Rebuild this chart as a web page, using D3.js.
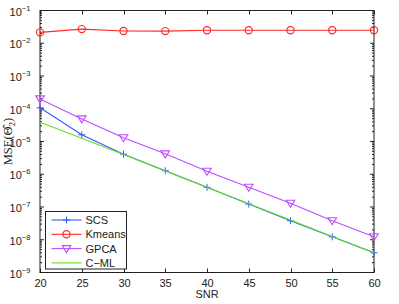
<!DOCTYPE html>
<html>
<head>
<meta charset="utf-8">
<script src="https://cdn.jsdelivr.net/npm/d3@7"></script>
<style>
  body { margin: 0; background: #fff; }
  text { font-family: "Liberation Sans", Arial, sans-serif; }
</style>
</head>
<body>
<svg id="chart" width="399" height="304"></svg>
<script>
// data
const snr = [20, 25, 30, 35, 40, 45, 50, 55, 60]
const scs = [1.07e-4, 1.6e-5, 4.1e-6, 1.28e-6, 4.0e-7, 1.23e-7, 3.8e-8, 1.23e-8, 4.0e-9]
const kmeans = [0.0215, 0.027, 0.0237, 0.0235, 0.025, 0.025, 0.025, 0.025, 0.025]
const gpca = [2.0e-4, 4.9e-5, 1.3e-5, 4.2e-6, 1.23e-6, 4.0e-7, 1.3e-7, 3.8e-8, 1.23e-8]
const cml = [3.9e-5, 1.25e-5, 4.0e-6, 1.26e-6, 4.0e-7, 1.26e-7, 4.0e-8, 1.26e-8, 4.0e-9]
const xTicks = [20, 25, 30, 35, 40, 45, 50, 55, 60]
const yExps = [-9, -8, -7, -6, -5, -4, -3, -2, -1]

const series = [
  {name: 'SCS', values: scs, color: '#3658ff', marker: 'plus'},
  {name: 'Kmeans', values: kmeans, color: '#ff2a2a', marker: 'circle'},
  {name: 'GPCA', values: gpca, color: '#c04cff', marker: 'tri'},
  {name: 'C\u2212ML', values: cml, color: '#62e21e', marker: null}
]

const W = 399, H = 304
const m = {l: 40, r: 25, t: 10.5, b: 31.5}
const svg = d3.select('#chart')

const x = d3.scaleLinear().domain([20, 60]).range([m.l, W - m.r])
const y = d3.scaleLog().domain([1e-9, 1e-1]).range([H - m.b, m.t])

const g = svg.append('g')

// box
g.append('rect')
  .attr('x', x(20)).attr('y', y(1e-1))
  .attr('width', x(60) - x(20)).attr('height', y(1e-9) - y(1e-1))
  .attr('fill', 'none').attr('stroke', '#222').attr('stroke-width', 1)

// x ticks (inside, bottom and top)
xTicks.forEach(v=>{
  let px = Math.round(x(v)) + 0.5
  g.append('line').attr('x1', px).attr('x2', px)
    .attr('y1', y(1e-9)).attr('y2', y(1e-9) - 4).attr('stroke', '#222')
  g.append('line').attr('x1', px).attr('x2', px)
    .attr('y1', y(1e-1)).attr('y2', y(1e-1) + 4).attr('stroke', '#222')
  g.append('text').attr('x', px).attr('y', y(1e-9) + 14)
    .attr('text-anchor', 'middle').attr('font-size', 11).attr('fill', '#222')
    .text(v)
})

// y ticks, major + minor, both sides
yExps.forEach(e=>{
  let base = Math.pow(10, e)
  let py = y(base)
  ;[x(20), x(60)].forEach((px, i)=>{
    let dir = i == 0 ? 1 : -1
    g.append('line').attr('x1', px).attr('x2', px + dir*4)
      .attr('y1', py).attr('y2', py).attr('stroke', '#222')
    if (e < -1) {
      for (let k = 2; k < 10; k++) {
        let my = y(base*k)
        g.append('line').attr('x1', px).attr('x2', px + dir*2)
          .attr('y1', my).attr('y2', my).attr('stroke', '#222')
      }
    }
  })
  let t = g.append('text').attr('x', x(20) - 20).attr('y', py + 5)
    .attr('text-anchor', 'middle').attr('font-size', 11).attr('fill', '#222')
  t.append('tspan').text('10')
  t.append('tspan').attr('dy', -5).attr('font-size', 7.5).text('\u2212' + (-e))
})

// lines
const line = d3.line().x((d,i)=>x(snr[i])).y(d=>y(d))

function drawMarker(sel, type, color, cx, cy){
  if (type == 'plus') {
    sel.append('path').attr('d', `M${cx-3.5},${cy}H${cx+3.5}M${cx},${cy-3.5}V${cy+3.5}`)
      .attr('stroke', color).attr('stroke-width', 1).attr('fill', 'none')
  } else if (type == 'circle') {
    sel.append('circle').attr('cx', cx).attr('cy', cy).attr('r', 3.6)
      .attr('stroke', color).attr('stroke-width', 1.2).attr('fill', 'none')
  } else if (type == 'tri') {
    sel.append('path').attr('d', `M${cx-4.3},${cy-3}L${cx+4.3},${cy-3}L${cx},${cy+4}Z`)
      .attr('stroke', color).attr('stroke-width', 1.1).attr('fill', 'none')
  }
}

series.forEach(s=>{
  g.append('path').datum(s.values).attr('d', line)
    .attr('fill', 'none').attr('stroke', s.color).attr('stroke-width', 1.1)
  if (s.marker) s.values.forEach((v,i)=>drawMarker(g, s.marker, s.color, x(snr[i]), y(v)))
})

// legend
const lg = g.append('g')
lg.append('rect').attr('x', 45.5).attr('y', 211.5).attr('width', 81).attr('height', 57.5)
  .attr('fill', '#fff').attr('stroke', '#222')
series.forEach((s,i)=>{
  let ly = 220 + i*14.3
  lg.append('line').attr('x1', 51.5).attr('x2', 81.5).attr('y1', ly).attr('y2', ly)
    .attr('stroke', s.color).attr('stroke-width', 1.1)
  if (s.marker) drawMarker(lg, s.marker, s.color, 66.5, ly)
  lg.append('text').attr('x', 85.5).attr('y', ly + 4).attr('font-size', 11)
    .attr('fill', '#222').text(s.name)
})

// axis labels
g.append('text').attr('x', x(40)).attr('y', 298).attr('text-anchor', 'middle')
  .attr('font-size', 11).attr('fill', '#222').text('SNR')

const yl = g.append('text')
  .attr('transform', `translate(12,${(y(1e-1)+y(1e-9))/2}) rotate(-90)`)
  .attr('text-anchor', 'middle').attr('font-size', 12.5).attr('fill', '#222')
  .style('font-family', '"Liberation Serif", "Times New Roman", serif')
yl.append('tspan').text('MSE(\u0398\u0302')
yl.append('tspan').attr('dy', 3).attr('font-size', 9).text('2')
yl.append('tspan').attr('dy', -3).text(')')
</script>
</body>
</html>
